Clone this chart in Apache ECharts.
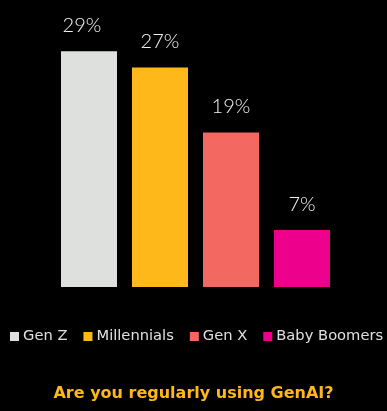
<!DOCTYPE html>
<html>
<head>
<meta charset="utf-8">
<script src="https://cdn.jsdelivr.net/npm/echarts@6/dist/echarts.min.js"></script>
<style>
  html, body { margin: 0; padding: 0; background: #000; }
  #chart { width: 387px; height: 411px; }
</style>
</head>
<body>
<div id="chart"></div>
<script>
// Share of each generation regularly using GenAI (%)
const generations = ['Gen Z', 'Millennials', 'Gen X', 'Baby Boomers'];
const shares = [29, 27, 19, 7];
const colors = ['#DEE0DD', '#FFB81A', '#F36861', '#EC008C'];
const questionText = 'Are you regularly using GenAI?';

const chart = echarts.init(document.getElementById('chart'));

// One series per generation so each gets its own legend entry;
// all share a stack so every bar sits centred in its own category.
const series = generations.map((name, i) => ({
  name: name,
  type: 'bar',
  stack: 'all',
  barWidth: 56,
  itemStyle: { color: colors[i] },
  label: {
    show: true,
    position: 'top',
    distance: 16,
    offset: i === 0 ? [-7, 0] : [0, 0],
    formatter: '{c}%',
    color: '#F2F2F2',
    fontFamily: 'Lato',
    fontSize: 20,
    fontWeight: 300
  },
  data: generations.map((g, j) => (j === i ? shares[i] : '-'))
}));

chart.setOption({
  backgroundColor: '#000',
  animation: false,
  title: {
    text: questionText,
    left: 'center',
    top: 381,
    textStyle: {
      color: '#FFB81A',
      fontFamily: 'DejaVu Sans',
      fontWeight: 'bold',
      fontSize: 16
    }
  },
  legend: {
    data: generations,
    top: 329,
    left: 10,
    width: 500,
    padding: 0,
    icon: 'rect',
    itemWidth: 9,
    itemHeight: 9,
    itemGap: 16,
    textStyle: {
      color: '#E0E0E0',
      fontFamily: 'DejaVu Sans',
      fontSize: 14.7,
      padding: [0, 0, 0, -1]
    }
  },
  grid: {
    left: 53.5,
    width: 284,
    top: 43,
    height: 244
  },
  xAxis: {
    type: 'category',
    data: generations,
    axisLine: { show: false },
    axisTick: { show: false },
    axisLabel: { show: false }
  },
  yAxis: {
    type: 'value',
    min: 0,
    max: 30,
    show: false,
    splitLine: { show: false }
  },
  series: series
});
</script>
</body>
</html>
